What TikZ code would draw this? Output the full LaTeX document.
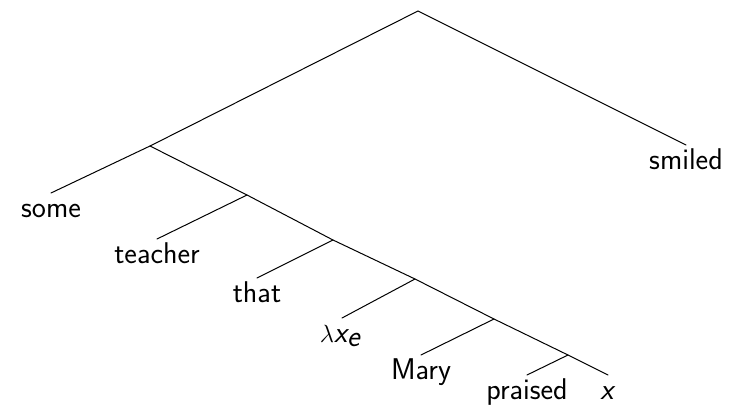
\documentclass[tikz,border=0pt]{standalone}
\begin{document}
\begin{tikzpicture}[x=1pt,y=-1pt,
  edge/.style={line width=1pt, line cap=round},
  leaf/.style={anchor=north, inner xsep=0pt, inner ysep=0pt, text height=24pt, text depth=4.5pt,
    font=\sffamily\fontsize{30}{34}\selectfont}]
\useasboundingbox (0,0) rectangle (738,405);
% internal points
\coordinate (root) at (418,11);
\coordinate (n1) at (150,146);
\coordinate (n2) at (247,195);
\coordinate (n3) at (333,240);
\coordinate (n4) at (415,279);
\coordinate (n5) at (494,319);
\coordinate (n6) at (568,355);
% leaves
\node[leaf] (some) at (51,193) {some};
\node[leaf] (teacher) at (157,239) {teacher};
\node[leaf] (that) at (257,278) {that};
\node[leaf] (lam) at (340,318) {$\lambda\textit{x}_{\textit{e}}$};
\node[leaf] (mary) at (421,355) {Mary};
\node[leaf] (praised) at (527,375) {praised};
\node[leaf] (x) at (608,375) {\textit{x}};
\node[leaf] (smiled) at (686,145) {smiled};
% edges
\draw[edge] (n1) -- (root) -- (smiled.north);
\draw[edge] (some.north) -- (n1) -- (n2) -- (n3) -- (n4) -- (n5) -- (n6) -- (x.north);
\draw[edge] (n2) -- (teacher.north);
\draw[edge] (n3) -- (that.north);
\draw[edge] (n4) -- ([xshift=2pt]lam.north);
\draw[edge] (n5) -- (mary.north);
\draw[edge] (n6) -- (praised.north);
\end{tikzpicture}
\end{document}
